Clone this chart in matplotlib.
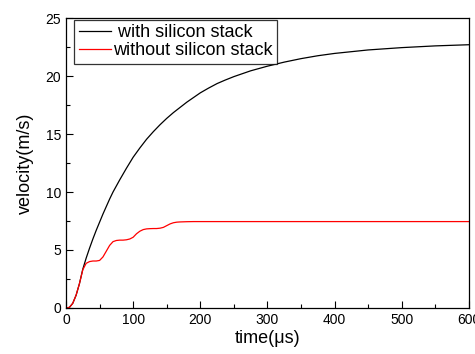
import matplotlib
matplotlib.use("Agg")
import matplotlib.pyplot as plt
from matplotlib.ticker import MultipleLocator

plt.rcParams['font.family'] = ['Liberation Sans', 'DejaVu Sans']

# with silicon stack
t_with = [0, 5, 10, 15, 20, 25, 30, 35, 40, 45, 50, 55, 60, 65, 70, 80, 90,
          100, 110, 120, 130, 140, 150, 160, 170, 180, 190, 200, 212, 225, 237,
          250, 275, 300, 325, 350, 375, 400, 450, 500, 550, 600]
v_with = [0, 0.05, 0.4, 1.1, 2.1, 3.35, 4.3, 5.15, 5.95, 6.7, 7.4, 8.1, 8.75,
          9.4, 10.0, 11.05, 12.05, 13.0, 13.8, 14.55, 15.2, 15.8, 16.35,
          16.85, 17.3, 17.75, 18.15, 18.55, 18.95, 19.35, 19.65, 19.95, 20.45,
          20.85, 21.2, 21.5, 21.75, 21.95, 22.25, 22.45, 22.6, 22.7]

# without silicon stack
t_without = [0, 5, 10, 15, 20, 25, 30, 35, 40, 45, 50, 55, 60, 65, 70, 75, 80,
             85, 90, 95, 100, 105, 110, 115, 120, 125, 130, 135, 140, 145, 150,
             155, 160, 165, 170, 180, 190, 200, 250, 300, 400, 500, 600]
v_without = [0, 0.05, 0.4, 1.1, 2.1, 3.3, 3.85, 4.0, 4.05, 4.05, 4.1, 4.4,
             4.9, 5.4, 5.72, 5.82, 5.85, 5.85, 5.88, 5.95, 6.1, 6.4, 6.62,
             6.76, 6.82, 6.84, 6.85, 6.85, 6.88, 6.95, 7.1, 7.25, 7.35, 7.4,
             7.42, 7.44, 7.45, 7.45, 7.45, 7.45, 7.45, 7.45, 7.45]

fig = plt.figure(figsize=(4.75, 3.54), dpi=100)
ax = fig.add_axes([0.139, 0.130, 0.848, 0.819])

ax.plot(t_with, v_with, color='black', lw=0.9, label=' with silicon stack')
ax.plot(t_without, v_without, color='red', lw=0.9, label='without silicon stack')

ax.set_xlim(0, 600)
ax.set_ylim(0, 25)
ax.xaxis.set_major_locator(MultipleLocator(100))
ax.xaxis.set_minor_locator(MultipleLocator(50))
ax.yaxis.set_major_locator(MultipleLocator(5))
ax.yaxis.set_minor_locator(MultipleLocator(2.5))
ax.tick_params(which='both', direction='in', top=False, right=False,
               labelsize=10, width=0.8)
ax.tick_params(which='major', length=5)
ax.tick_params(which='minor', length=3)
for s in ax.spines.values():
    s.set_linewidth(0.9)

ax.set_xlabel('time(\u03bcs)', fontsize=13, labelpad=2)
ax.set_ylabel('velocity(m/s)', fontsize=13, labelpad=8)

leg = ax.legend(loc='upper left', bbox_to_anchor=(0.02, 0.994), fontsize=13,
                frameon=True, fancybox=False, edgecolor='black',
                handlelength=1.8, handletextpad=0.1, borderpad=0.25,
                borderaxespad=0, labelspacing=0.05)
leg.get_frame().set_linewidth(0.9)

fig.savefig('out.png', dpi=100)
